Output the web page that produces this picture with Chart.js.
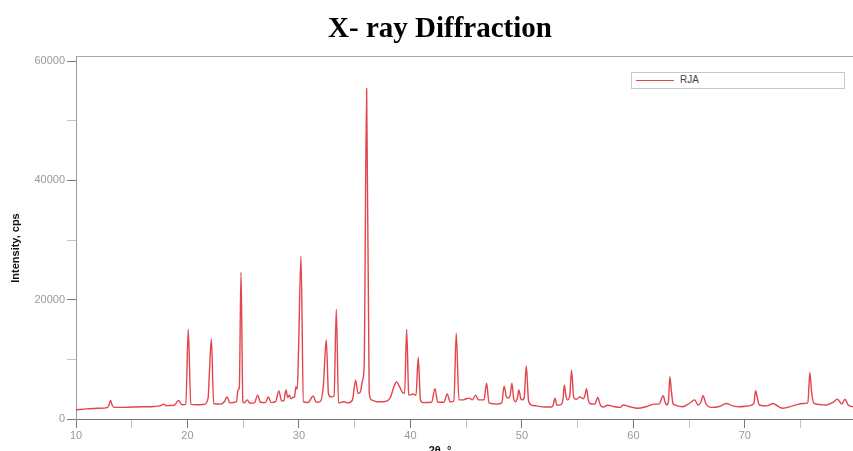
<!DOCTYPE html>
<html lang="es">
<head>
<meta charset="utf-8">
<title>X- ray Diffraction</title>
<script src="https://cdn.jsdelivr.net/npm/chart.js@4.4.1/dist/chart.umd.min.js"></script>
<style>
    body { margin: 0; background: #fff; }
    #contenedor { position: relative; width: 853px; height: 451px; overflow: hidden; }
    #titulo {
        position: absolute; left: 0; top: 11px; width: 880px;
        text-align: center; font: bold 29px 'Liberation Serif', 'Times New Roman', serif; color: #000;
    }
    #leyenda {
        position: absolute; left: 631px; top: 72px; width: 212px; height: 15px;
        border: 1px solid #c8c8c8; background: #fff;
        font: 10px 'Liberation Sans', Arial, sans-serif; color: #444;
    }
    #leyenda .linea { position: absolute; left: 4px; top: 7px; width: 38px; height: 0; border-top: 1.5px solid; }
    #leyenda .texto { position: absolute; left: 48px; top: 1px; }
</style>
</head>
<body>
<div id="contenedor">
    <canvas id="chartDifraccion" width="853" height="451"></canvas>
    <div id="titulo">X- ray Diffraction</div>
    <div id="leyenda"></div>
</div>
<script>
// Patrón de difracción de la muestra RJA (2θ en grados, intensidad en cps)
const angulo2Theta = [
    10.0, 11.0, 12.0, 12.8, 12.95, 13.1, 13.25, 13.4, 14.0, 15.0, 16.0, 17.0, 17.6, 17.85, 18.1, 18.8,
    19.2, 19.5, 19.85, 20.07, 20.3, 20.8, 21.5, 21.85, 21.96, 22.14, 22.35, 23.0, 23.3, 23.55, 23.8, 24.4,
    24.53, 24.65, 24.8, 24.97, 25.1, 25.36, 25.6, 26.0, 26.3, 26.55, 27.0, 27.25, 27.5, 27.9, 28.2, 28.45,
    28.65, 28.83, 29.0, 29.13, 29.3, 29.45, 29.6, 29.73, 29.85, 29.97, 30.18, 30.4, 30.8, 31.28, 31.55, 31.9,
    32.18, 32.45, 32.65, 32.87, 33.15, 33.35, 33.55, 34.0, 34.4, 34.8, 35.08, 35.3, 35.5, 35.71, 35.85, 36.07,
    36.3, 36.5, 37.0, 37.6, 38.2, 38.5, 38.75, 39.0, 39.3, 39.48, 39.66, 39.85, 39.96, 40.2, 40.5, 40.7,
    40.9, 41.15, 41.9, 42.2, 42.45, 43.0, 43.3, 43.55, 43.9, 44.11, 44.35, 44.7, 45.0, 45.3, 45.55, 45.85,
    46.1, 46.6, 46.83, 47.05, 47.7, 48.2, 48.4, 48.6, 48.77, 48.95, 49.1, 49.28, 49.43, 49.6, 49.73, 49.9,
    50.0, 50.2, 50.39, 50.6, 50.9, 51.3, 52.0, 52.6, 52.8, 52.96, 53.15, 53.5, 53.7, 53.8, 53.95, 54.1,
    54.3, 54.45, 54.65, 54.9, 55.2, 55.5, 55.65, 55.8, 55.95, 56.1, 56.55, 56.8, 57.05, 57.3, 57.7, 58.2,
    58.8, 59.1, 59.6, 60.4, 61.2, 61.9, 62.3, 62.67, 62.85, 62.97, 63.15, 63.27, 63.4, 63.55, 63.7, 64.4,
    65.0, 65.5, 65.8, 66.05, 66.25, 66.5, 67.0, 67.7, 68.35, 68.9, 69.55, 70.3, 70.8, 70.96, 71.1, 71.3,
    72.0, 72.54, 73.0, 73.4, 74.3, 75.2, 75.65, 75.83, 75.98, 76.2, 76.8, 77.3, 77.9, 78.3, 78.7, 78.97,
    79.27, 79.7
];
const intensidadCps = [
    1550, 1700, 1800, 1900, 2300, 3100, 2300, 1950, 1950, 2000, 2050, 2100, 2250, 2500, 2250, 2300,
    3100, 2400, 2450, 15000, 2450, 2400, 2450, 3500, 7500, 13400, 2600, 2500, 2900, 3700, 2700, 2900,
    4900, 5200, 24600, 2900, 2700, 3200, 2650, 2700, 4000, 2800, 2750, 3700, 2750, 2900, 4700, 3000,
    3100, 4850, 3600, 4000, 3400, 3600, 3700, 5400, 5000, 12100, 27300, 2900, 2750, 3850, 2800, 2900,
    5400, 13300, 4200, 3700, 3900, 18400, 2700, 2900, 2700, 3200, 6500, 4300, 4500, 6500, 9000, 55400,
    4500, 3200, 2900, 2900, 3600, 5300, 6200, 5500, 4400, 4300, 15000, 4100, 4000, 4200, 4000, 10300,
    3200, 2750, 2800, 5100, 2800, 2800, 4200, 2900, 3000, 14400, 3200, 3200, 3400, 3500, 3200, 4000,
    3200, 3200, 6000, 2700, 2500, 2700, 5500, 3800, 3500, 4000, 6000, 3200, 2900, 3600, 4850, 3400,
    3200, 3500, 8900, 3000, 2300, 2200, 2000, 2000, 2300, 3500, 2300, 2400, 3500, 5700, 3900, 3200,
    4000, 8200, 3600, 3300, 3700, 3400, 3900, 5100, 3200, 2600, 2500, 3600, 2300, 2000, 2300, 2100,
    1950, 2350, 2100, 1800, 2100, 2500, 2500, 3900, 2800, 2350, 3000, 7100, 4850, 2600, 2350, 2050,
    2600, 3200, 2350, 2800, 3900, 2600, 1950, 2100, 2600, 2200, 2050, 2200, 2600, 4750, 3700, 2350,
    2200, 2600, 2100, 1800, 2200, 2600, 2700, 7800, 4600, 2600, 2400, 2350, 2800, 3300, 2500, 3300,
    2350, 2050
];

// Marcas de los ejes: las principales llevan etiqueta, las intermedias no
const ticksX = [10, 15, 20, 25, 30, 35, 40, 45, 50, 55, 60, 65, 70, 75];
const etiquetasX = [10, 20, 30, 40, 50, 60, 70];
const ticksY = [0, 10000, 20000, 30000, 40000, 50000, 60000];
const etiquetasY = [0, 20000, 40000, 60000];

const nombreMuestra = 'RJA';
const colorMuestra = '#e2454b';
const tituloEjeX = '2θ, °';
const tituloEjeY = 'Intensity, cps';
const rangoX = [10, 79.7];
const rangoY = [0, 60850];

const fuenteEjes = "'Liberation Sans', Arial, sans-serif";

// Títulos de los ejes dibujados a mano (no van centrados en el área del gráfico)
const titulosEjes = {
    id: 'titulosEjes',
    afterDraw(chart) {
        const ctx = chart.ctx;
        ctx.save();
        ctx.fillStyle = '#111';
        ctx.font = `bold 11px ${fuenteEjes}`;
        ctx.textAlign = 'center';
        ctx.textBaseline = 'alphabetic';
        ctx.fillText(tituloEjeX, 440, 454);
        ctx.translate(16, 248);
        ctx.rotate(-Math.PI / 2);
        ctx.textBaseline = 'middle';
        ctx.fillText(tituloEjeY, 0, 0);
        ctx.restore();
    }
};

const colorTick = etiquetas => ctx => (ctx.tick && etiquetas.includes(ctx.tick.value) ? '#777' : '#c4c4c4');
const textoTick = etiquetas => v => (etiquetas.includes(v) ? String(v) : '');

const grafico = new Chart(document.getElementById('chartDifraccion'), {
    type: 'line',
    data: {
        datasets: [{
            label: nombreMuestra,
            data: angulo2Theta.map((x, i) => ({ x, y: intensidadCps[i] })),
            borderColor: colorMuestra,
            borderWidth: 1.4,
            pointRadius: 0,
            cubicInterpolationMode: 'monotone',
            fill: false
        }]
    },
    options: {
        responsive: false,
        animation: false,
        layout: { padding: { top: 56, left: 0, right: 0, bottom: 0 } },
        plugins: { legend: { display: false }, tooltip: { enabled: false } },
        scales: {
            x: {
                type: 'linear',
                min: rangoX[0],
                max: rangoX[1],
                afterBuildTicks: s => { s.ticks = ticksX.map(value => ({ value })); },
                afterFit: s => { s.height = 32; },
                border: { color: '#777', width: 1 },
                grid: { drawOnChartArea: false, tickLength: 9, tickColor: colorTick(etiquetasX) },
                ticks: {
                    autoSkip: false,
                    maxRotation: 0,
                    padding: 1,
                    color: '#999',
                    font: { family: fuenteEjes, size: 11 },
                    callback: textoTick(etiquetasX)
                }
            },
            xSuperior: {
                type: 'linear',
                position: 'top',
                afterFit: s => { s.height = 0; },
                border: { color: '#aaa', width: 1 },
                grid: { display: false },
                ticks: { display: false }
            },
            y: {
                type: 'linear',
                min: rangoY[0],
                max: rangoY[1],
                afterBuildTicks: s => { s.ticks = ticksY.map(value => ({ value })); },
                afterFit: s => { s.width = 76; },
                border: { color: '#999', width: 1 },
                grid: { drawOnChartArea: false, tickLength: 9, tickColor: colorTick(etiquetasY) },
                ticks: {
                    autoSkip: false,
                    padding: 2,
                    color: '#999',
                    font: { family: fuenteEjes, size: 11 },
                    callback: textoTick(etiquetasY)
                }
            }
        }
    },
    plugins: [titulosEjes]
});

// Leyenda con recuadro, construida a partir del conjunto de datos
document.getElementById('leyenda').innerHTML = grafico.data.datasets.map(d => `
    <span class="linea" style="border-color:${d.borderColor}"></span>
    <span class="texto">${d.label}</span>`).join('');
</script>
</body>
</html>
